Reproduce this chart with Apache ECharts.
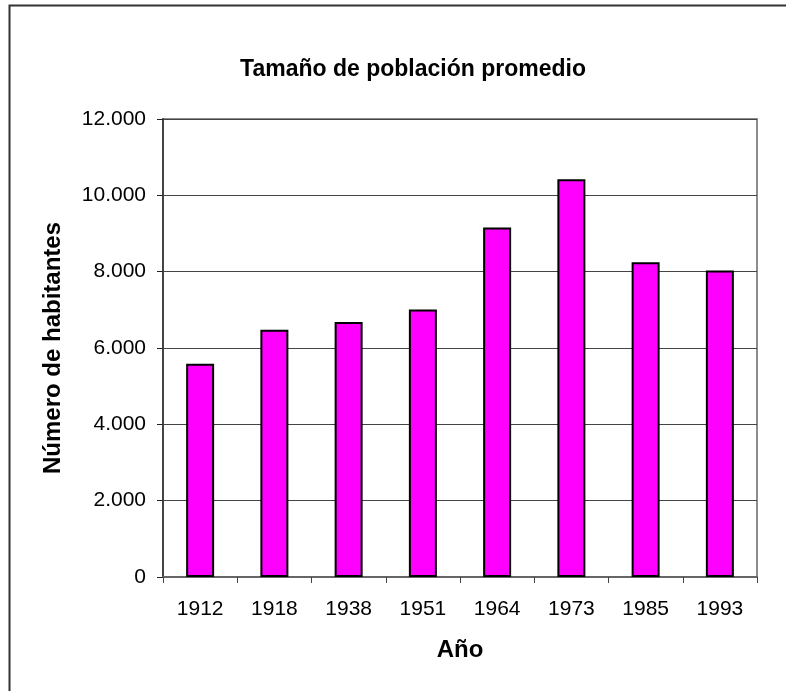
<!DOCTYPE html>
<html>
<head>
<meta charset="utf-8">
<script src="https://cdn.jsdelivr.net/npm/echarts@6/dist/echarts.min.js"></script>
<style>
html,body{margin:0;padding:0;background:#fff;}
#chart{width:786px;height:691px;}
</style>
</head>
<body>
<div id="chart"></div>
<script>
const categories = ['1912','1918','1938','1951','1964','1973','1985','1993'];
const values = [5590, 6480, 6680, 7010, 9160, 10420, 8250, 8030];
const titleText = 'Tamaño de población promedio';
const yAxisName = 'Número de habitantes';
const xAxisName = 'Año';

function fmt(v){
  return String(v).replace(/\B(?=(\d{3})+(?!\d))/g, '.');
}

const FONT = 'Liberation Sans, Arial, sans-serif';
const chart = echarts.init(document.getElementById('chart'), null, {renderer:'canvas'});
chart.setOption({
  animation:false,
  backgroundColor:'#fff',
  title:{
    text:titleText,
    left:408, top:53, textAlign:'center',
    textStyle:{fontFamily:FONT, fontSize:23, fontWeight:'bold', color:'#000'}
  },
  graphic:[
    {type:'polyline', shape:{points:[[9.5,691],[9.5,5.5],[786,5.5]]}, style:{stroke:'#333', lineWidth:2, fill:null}, z:10}
  ],
  grid:{left:163, top:119, right:29, bottom:114, show:true, borderColor:'#8c8c8c', borderWidth:2, containLabel:false},
  xAxis:{
    type:'category', data:categories,
    name:xAxisName, nameLocation:'middle', nameGap:61,
    nameTextStyle:{fontFamily:FONT, fontSize:24, fontWeight:'bold', color:'#000'},
    axisLine:{show:true, lineStyle:{color:'#666', width:2}},
    axisTick:{show:true, alignWithLabel:false, length:6, lineStyle:{color:'#444', width:1}},
    axisLabel:{fontFamily:FONT, fontSize:21, color:'#000', margin:22},
    splitLine:{show:false}
  },
  yAxis:{
    type:'value', min:0, max:12000, interval:2000,
    name:yAxisName, nameLocation:'middle', nameGap:98,
    nameTextStyle:{fontFamily:FONT, fontSize:24, fontWeight:'bold', color:'#000'},
    axisLine:{show:true, lineStyle:{color:'#444', width:2}},
    axisTick:{show:true, length:6, lineStyle:{color:'#222', width:1}},
    axisLabel:{fontFamily:FONT, fontSize:21, color:'#000', margin:17, formatter:fmt},
    splitLine:{show:true, lineStyle:{color:'#444', width:1}}
  },
  series:[{
    type:'bar', data:values, barWidth:28,
    itemStyle:{color:'#FF00FF', borderColor:'#000', borderWidth:2}
  }]
});
</script>
</body>
</html>
